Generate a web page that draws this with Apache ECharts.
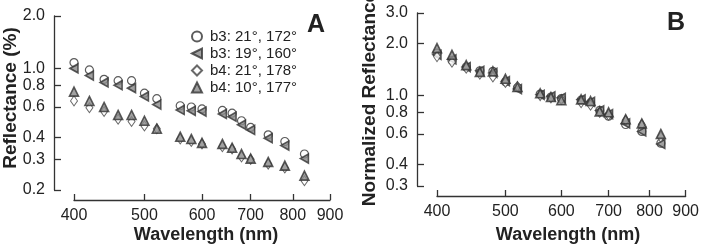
<!DOCTYPE html>
<html>
<head>
<meta charset="utf-8">
<script src="https://cdn.jsdelivr.net/npm/echarts@6/dist/echarts.min.js"></script>
<style>
  html, body { margin: 0; padding: 0; background: #fff; }
  #wrap { position: relative; width: 702px; height: 248px; }
  #panelA, #panelB, #overlay { position: absolute; top: 0; height: 248px; }
  #panelA { left: 0; width: 351px; }
  #panelB { left: 351px; width: 351px; }
  #overlay { left: 0; width: 702px; pointer-events: none; }
</style>
</head>
<body>
<div id="wrap">
  <div id="panelA"></div>
  <div id="panelB"></div>
  <div id="overlay"></div>
</div>
<script>
// wavelengths (nm) shared by every series
const wavelengths = [400, 420, 440, 460, 480, 500, 520, 560, 580, 600, 640, 660, 680, 700, 740, 780, 830];
const seriesNames = ['b3: 21°, 172°', 'b3: 19°, 160°', 'b4: 21°, 178°', 'b4: 10°, 177°'];

// panel A: reflectance (%)
const reflB3_21 = [1.08, 0.98, 0.865, 0.85, 0.85, 0.72, 0.67, 0.61, 0.60, 0.585, 0.573, 0.553, 0.50, 0.458, 0.415, 0.38, 0.322];
const reflB3_19 = [1.00, 0.91, 0.83, 0.80, 0.77, 0.69, 0.62, 0.577, 0.57, 0.565, 0.547, 0.528, 0.475, 0.443, 0.397, 0.36, 0.303];
const reflB4_21 = [0.65, 0.594, 0.565, 0.51, 0.495, 0.467, 0.45, 0.393, 0.38, 0.368, 0.355, 0.344, 0.31, 0.30, 0.282, 0.268, 0.226];
const reflB4_10 = [0.735, 0.65, 0.60, 0.54, 0.54, 0.50, 0.45, 0.405, 0.393, 0.373, 0.368, 0.35, 0.322, 0.303, 0.29, 0.276, 0.242];

// panel B: normalized reflectance
const normB3_21 = [1.76, 1.60, 1.46, 1.39, 1.38, 1.20, 1.11, 1.02, 0.98, 0.96, 0.94, 0.91, 0.82, 0.76, 0.68, 0.62, 0.53];
const normB3_19 = [1.72, 1.62, 1.46, 1.39, 1.35, 1.21, 1.09, 1.01, 0.99, 0.97, 0.95, 0.92, 0.82, 0.78, 0.69, 0.62, 0.525];
const normB4_21 = [1.68, 1.56, 1.44, 1.33, 1.28, 1.19, 1.13, 1.00, 0.97, 0.95, 0.91, 0.88, 0.80, 0.77, 0.72, 0.68, 0.575];
const normB4_10 = [1.88, 1.72, 1.50, 1.37, 1.38, 1.25, 1.12, 1.03, 0.98, 0.94, 0.95, 0.93, 0.81, 0.80, 0.73, 0.69, 0.60];

const xTicks = [400, 500, 600, 700, 800, 900];
const yTicksA = [0.2, 0.3, 0.4, 0.6, 0.8, 1.0, 2.0];
const yTicksB = [0.3, 0.4, 0.6, 0.8, 1.0, 2.0, 3.0];

const FONT = '"Liberation Sans", Arial, sans-serif';
const INK = '#222';
const LEFT_TRI = 'path://M0,5L10,0L10,10Z';

// both axes are logarithmic: plot log10 values on value axes, label them back in linear units
const lg = Math.log10;

const markers = [
  { symbol: 'circle', size: 8, fill: '#fff', stroke: '#333', width: 1.2 },
  { symbol: LEFT_TRI, size: [8, 9], fill: '#8a8a8a', stroke: '#333', width: 1.6 },
  { symbol: 'diamond', size: [7, 10], fill: '#fff', stroke: '#444', width: 1 },
  { symbol: 'triangle', size: 9, fill: '#8a8a8a', stroke: '#333', width: 1.6 }
];

function pairs(ys) {
  return wavelengths.map((w, i) => [lg(w), lg(ys[i])]);
}

function makeSeries(values) {
  return values.map((ys, k) => ({
    name: seriesNames[k],
    type: 'scatter',
    symbol: markers[k].symbol,
    symbolSize: markers[k].size,
    itemStyle: { color: markers[k].fill, borderColor: markers[k].stroke, borderWidth: markers[k].width },
    data: ys ? pairs(ys) : []
  }));
}

function xAxis() {
  const ticks = xTicks.map(lg);
  return {
    type: 'value', min: ticks[0], max: ticks[ticks.length - 1], offset: 10,
    axisLine: { show: true, onZero: false, lineStyle: { color: '#333', width: 1.3 } },
    axisTick: { show: true, inside: true, length: 6, customValues: ticks, lineStyle: { color: '#333', width: 1.3 } },
    axisLabel: { show: true, customValues: ticks, margin: 8, fontFamily: FONT, fontSize: 16, color: INK,
      formatter: v => String(Math.round(Math.pow(10, v))) },
    splitLine: { show: false }
  };
}

function yAxis(tickVals) {
  const ticks = tickVals.map(lg);
  return {
    type: 'value', min: ticks[0], max: ticks[ticks.length - 1], offset: 20,
    axisLine: { show: true, onZero: false, lineStyle: { color: '#333', width: 1.3 } },
    axisTick: { show: true, inside: true, length: 7, customValues: ticks, lineStyle: { color: '#333', width: 1.3 } },
    axisLabel: { show: true, customValues: ticks, margin: 9, fontFamily: FONT, fontSize: 16, color: INK,
      formatter: v => Math.pow(10, v).toFixed(1) },
    splitLine: { show: false }
  };
}

function label(text, x, y, size, rotate) {
  return {
    type: 'text', x: x, y: y, rotation: rotate ? Math.PI / 2 : 0, silent: true,
    style: { text: text, fontFamily: FONT, fontSize: size, fontWeight: 'bold', fill: INK,
      align: 'center', verticalAlign: 'middle' }
  };
}

// panel A
const chartA = echarts.init(document.getElementById('panelA'));
chartA.setOption({
  animation: false,
  grid: { left: 74, width: 256, top: 16, height: 174 },
  xAxis: xAxis(),
  yAxis: yAxis(yTicksA),
  series: makeSeries([reflB3_21, reflB3_19, reflB4_21, reflB4_10])
});

// panel B
const chartB = echarts.init(document.getElementById('panelB'));
chartB.setOption({
  animation: false,
  grid: { left: 86, width: 254, top: 13, height: 173 },
  xAxis: xAxis(),
  yAxis: yAxis(yTicksB),
  series: makeSeries([normB3_21, normB3_19, normB4_21, normB4_10])
});

// titles and legend on a transparent layer above both panels
const overlay = echarts.init(document.getElementById('overlay'));
overlay.setOption({
  animation: false,
  graphic: [
    label('Reflectance (%)', 11, 98, 19, true),
    label('Normalized Reflectance', 370, 99, 19, true),
    label('Wavelength (nm)', 206, 235, 18, false),
    label('Wavelength (nm)', 568, 235, 18, false),
    label('A', 316, 25, 25, false),
    label('B', 676, 23, 25, false)
  ],
  legend: {
    data: seriesNames,
    orient: 'vertical', left: 186, top: 24,
    itemWidth: 10, itemHeight: 10, itemGap: 2,
    textStyle: { fontFamily: FONT, fontSize: 15, color: INK, padding: [0, 0, 0, 3] }
  },
  grid: { show: false },
  xAxis: { type: 'value', show: false },
  yAxis: { type: 'value', show: false },
  series: makeSeries([null, null, null, null])
});
</script>
</body>
</html>
